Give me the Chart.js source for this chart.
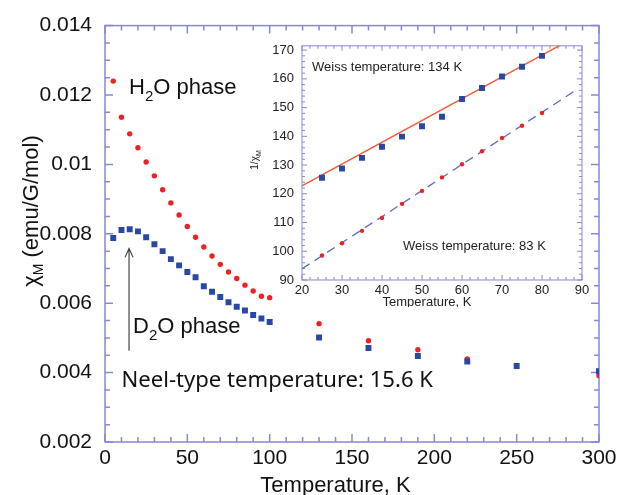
<!DOCTYPE html>
<html>
<head>
<meta charset="utf-8">
<script src="https://cdn.jsdelivr.net/npm/chart.js@4"></script>
<style>
  html, body { margin: 0; padding: 0; background: #fff; }
  #wrap { position: relative; width: 621px; height: 495px; }
  #main { position: absolute; left: 0; top: 0; }
  #inset { position: absolute; left: 245px; top: 30px; }
</style>
</head>
<body>
<div id="wrap">
  <canvas id="main" width="621" height="495"></canvas>
  <canvas id="inset" width="350" height="277"></canvas>
</div>
<script>
/* chi_M vs T for the H2O and D2O phases, with a 1/chi_M inset (Curie-Weiss fits). */

// ---- main plot data: chi_M (emu/G/mol) vs temperature (K)
const h2oTemp = [5, 10, 15, 20, 25, 30, 35, 40, 45, 50, 55, 60, 65, 70, 75, 80, 85, 90, 95, 100,
                 130, 160, 190, 220, 300];
const h2oChi = [0.01240, 0.01136, 0.01088, 0.01048, 0.01007, 0.00967, 0.00927, 0.00889, 0.00854, 0.00821,
                0.00790, 0.00762, 0.00736, 0.00712, 0.00690, 0.00671, 0.00652, 0.00635, 0.00620, 0.00616,
                0.00541, 0.00492, 0.00466, 0.00439, 0.00391];
const d2oTemp = [5, 10, 15, 20, 25, 30, 35, 40, 45, 50, 55, 60, 65, 70, 75, 80, 85, 90, 95, 100,
                 130, 160, 190, 220, 250, 300];
const d2oChi = [0.00788, 0.00811, 0.00813, 0.00807, 0.00790, 0.00770, 0.00750, 0.00727, 0.00709, 0.00690,
                0.00675, 0.00649, 0.00633, 0.00618, 0.00603, 0.00590, 0.00579, 0.00566, 0.00556, 0.00546,
                0.00501, 0.00471, 0.00448, 0.00432, 0.00419, 0.00404];
const mainXTicks = [0, 50, 100, 150, 200, 250, 300];
const mainYTicks = [0.002, 0.004, 0.006, 0.008, 0.01, 0.012, 0.014];
const mainYLabels = ["0.002", "0.004", "0.006", "0.008", "0.01", "0.012", "0.014"];
const neelArrowT = 14.6;               // arrow marking the Neel-type temperature
const neelArrowChi = [0.00463, 0.00758];

// ---- inset data: 1/chi_M vs temperature (K)
const insetTemp = [25, 30, 35, 40, 45, 50, 55, 60, 65, 70, 75, 80];
const insetSquares = [125.6, 128.8, 132.5, 136.4, 139.9, 143.5, 146.8, 153.0, 156.8, 160.8, 164.2, 168.0];
const insetCircles = [98.5, 102.8, 107.1, 111.6, 116.5, 121.0, 125.7, 130.3, 134.8, 139.4, 143.7, 148.1];
const fitSolidTemp = [20, 86];         // Weiss temperature 134 K fit
const fitSolidInv = [122.8, 172.8];
const fitDashTemp = [20, 88.75];       // Weiss temperature 83 K fit
const fitDashInv = [93.9, 156.3];
const insetXTicks = [20, 30, 40, 50, 60, 70, 80, 90];
const insetYTicks = [90, 100, 110, 120, 130, 140, 150, 160, 170];

const AXIS = "rgb(135,135,215)";
const RED = "rgb(238,32,36)";
const BLUE = "rgb(40,72,165)";
const FIT_RED = "rgb(240,95,60)";
const FIT_BLUE = "rgb(95,105,195)";
const SANS = "'Liberation Sans', Arial, Helvetica, sans-serif";

const pts = (xs, ys) => xs.map((x, i) => ({ x, y: ys[i] }));

// draws text pieces side by side; pieces may carry a size and a baseline shift (subscripts)
function rich(ctx, x, y, parts, family) {
  parts.forEach(p => {
    ctx.font = `${p.size}px ${family}`;
    ctx.fillText(p.t, x, y + (p.dy || 0));
    x += ctx.measureText(p.t).width;
  });
  return x;
}
function richWidth(ctx, parts, family) {
  return parts.reduce((w, p) => { ctx.font = `${p.size}px ${family}`; return w + ctx.measureText(p.t).width; }, 0);
}

// frame around the plot with inward major/minor ticks on all four sides
const frame = {
  id: "frame",
  beforeDatasetsDraw(chart, args, o) {
    const { ctx, chartArea: a, scales: { x, y } } = chart;
    ctx.save();
    ctx.strokeStyle = o.color;
    ctx.lineWidth = o.width;
    ctx.strokeRect(a.left, a.top, a.right - a.left, a.bottom - a.top);
    ctx.beginPath();
    const nx = Math.round((x.max - x.min) / o.xMinor);
    for (let i = 0; i <= nx; i++) {
      const v = x.min + i * o.xMinor, px = x.getPixelForValue(v);
      const r = (v - x.min) / o.xMajor, L = Math.abs(r - Math.round(r)) < 1e-6 ? o.majorLen : o.minorLen;
      ctx.moveTo(px, a.bottom); ctx.lineTo(px, a.bottom - L);
      ctx.moveTo(px, a.top); ctx.lineTo(px, a.top + L);
    }
    const ny = Math.floor((y.max - y.min) / o.yMinor + 1e-6);
    for (let i = 0; i <= ny; i++) {
      const v = y.min + i * o.yMinor, py = y.getPixelForValue(v);
      const r = (v - y.min) / o.yMajor, L = Math.abs(r - Math.round(r)) < 1e-6 ? o.majorLen : o.minorLen;
      ctx.moveTo(a.left, py); ctx.lineTo(a.left + L, py);
      ctx.moveTo(a.right, py); ctx.lineTo(a.right - L, py);
    }
    ctx.stroke();
    ctx.restore();
  },
};

const mainDecor = {
  id: "mainDecor",
  afterDatasetsDraw(chart) {
    const { ctx, chartArea: a, scales: { x, y } } = chart;
    ctx.save();
    ctx.fillStyle = "#111";
    ctx.textAlign = "left";
    ctx.textBaseline = "alphabetic";
    rich(ctx, x.getPixelForValue(14.6), y.getPixelForValue(0.01202),
      [{ t: "H", size: 22 }, { t: "2", size: 15, dy: 7 }, { t: "O phase", size: 22 }], SANS);
    rich(ctx, x.getPixelForValue(17.0), y.getPixelForValue(0.00515),
      [{ t: "D", size: 22 }, { t: "2", size: 15, dy: 7 }, { t: "O phase", size: 22 }], SANS);

    // Neel text, sized to the reference width
    const fam = "'Noto Sans', 'DejaVu Sans', sans-serif";
    const msg = "Neel-type temperature: 15.6 K";
    ctx.font = `22px ${fam}`;
    const fs = 22 * 311 / ctx.measureText(msg).width;
    ctx.font = `${fs.toFixed(1)}px ${fam}`;
    ctx.fillText(msg, x.getPixelForValue(10.0), y.getPixelForValue(0.003575));

    // arrow up to the maximum of the D2O curve
    const ax = x.getPixelForValue(neelArrowT);
    const y0 = y.getPixelForValue(neelArrowChi[0]), y1 = y.getPixelForValue(neelArrowChi[1]);
    ctx.strokeStyle = "#444";
    ctx.lineWidth = 1.2;
    ctx.beginPath();
    ctx.moveTo(ax, y0); ctx.lineTo(ax, y1);
    ctx.moveTo(ax - 4, y1 + 9); ctx.lineTo(ax, y1); ctx.lineTo(ax + 4, y1 + 9);
    ctx.stroke();

    // axis titles
    ctx.fillStyle = "#111";
    ctx.font = `22px ${SANS}`;
    ctx.textAlign = "center";
    ctx.fillText("Temperature, K", x.getPixelForValue(140), a.bottom + 50);

    const yt = [{ t: "\u03c7", size: 22 }, { t: "M", size: 14, dy: 5 }, { t: " (emu/G/mol)", size: 22 }];
    ctx.textAlign = "left";
    ctx.translate(38, 211);
    ctx.rotate(-Math.PI / 2);
    rich(ctx, -richWidth(ctx, yt, SANS) / 2, 0, yt, SANS);
    ctx.restore();
  },
};

const insetDecor = {
  id: "insetDecor",
  afterDatasetsDraw(chart) {
    const { ctx, chartArea: a, scales: { x, y } } = chart;
    ctx.save();
    ctx.fillStyle = "#222";
    ctx.textAlign = "left";
    ctx.font = `13px ${SANS}`;
    ctx.fillText("Weiss temperature: 134 K", x.getPixelForValue(22.5), y.getPixelForValue(162.9));
    ctx.fillText("Weiss temperature: 83 K", x.getPixelForValue(45.25), y.getPixelForValue(100.3));
    ctx.textAlign = "center";
    ctx.fillText("Temperature, K", x.getPixelForValue(51.25), a.bottom + 26);
    const yt = [{ t: "1/\u03c7", size: 10 }, { t: "M", size: 7, dy: 3 }];
    ctx.textAlign = "left";
    ctx.translate(13, 130);
    ctx.rotate(-Math.PI / 2);
    rich(ctx, -richWidth(ctx, yt, SANS) / 2, 0, yt, SANS);
    ctx.restore();
  },
};

new Chart(document.getElementById("main"), {
  type: "scatter",
  data: {
    datasets: [
      { label: "D2O phase", data: pts(d2oTemp, d2oChi), pointStyle: "rect", pointRadius: 4.2,
        backgroundColor: BLUE, borderColor: BLUE, borderWidth: 0 },
      { label: "H2O phase", data: pts(h2oTemp, h2oChi), pointStyle: "circle", pointRadius: 2.7,
        backgroundColor: RED, borderColor: RED, borderWidth: 0 },
    ],
  },
  options: {
    responsive: false, animation: false, events: [],
    layout: { padding: { top: 23, right: 22, left: 0, bottom: 0 } },
    plugins: {
      legend: { display: false }, tooltip: { enabled: false },
      frame: { color: AXIS, width: 1.5, xMinor: 10, xMajor: 50, yMinor: 0.0005, yMajor: 0.002,
               majorLen: 8, minorLen: 5 },
    },
    scales: {
      x: {
        type: "linear", min: 0, max: 300,
        afterBuildTicks: s => { s.ticks = mainXTicks.map(v => ({ value: v })); },
        afterFit: s => { s.height = 53; },
        grid: { display: false, drawTicks: false }, border: { display: false },
        ticks: { color: "#111", font: { size: 21, family: SANS }, padding: 4, maxRotation: 0 },
      },
      y: {
        type: "linear", min: 0.002, max: 0.014,
        afterBuildTicks: s => { s.ticks = mainYTicks.map(v => ({ value: v })); },
        afterFit: s => { s.width = 105; },
        grid: { display: false, drawTicks: false }, border: { display: false },
        ticks: { color: "#111", font: { size: 21, family: SANS }, padding: 13,
                 callback: (v, i) => mainYLabels[i] },
      },
    },
  },
  plugins: [frame, mainDecor],
});

new Chart(document.getElementById("inset"), {
  type: "scatter",
  data: {
    datasets: [
      { data: pts(insetTemp, insetSquares), pointStyle: "rect", pointRadius: 4.2,
        backgroundColor: BLUE, borderWidth: 0 },
      { data: pts(insetTemp, insetCircles), pointStyle: "circle", pointRadius: 2.2,
        backgroundColor: RED, borderWidth: 0 },
      { data: pts(fitSolidTemp, fitSolidInv), showLine: true, pointRadius: 0,
        borderColor: FIT_RED, borderWidth: 1.5 },
      { data: pts(fitDashTemp, fitDashInv), showLine: true, pointRadius: 0,
        borderColor: FIT_BLUE, borderWidth: 1.3, borderDash: [9, 6] },
    ],
  },
  options: {
    responsive: false, animation: false, events: [],
    layout: { padding: { top: 13, right: 13, left: 0, bottom: 0 } },
    plugins: {
      legend: { display: false }, tooltip: { enabled: false },
      frame: { color: AXIS, width: 1, xMinor: 2, xMajor: 10, yMinor: 2, yMajor: 10,
               majorLen: 5, minorLen: 3 },
    },
    scales: {
      x: {
        type: "linear", min: 20, max: 90,
        afterBuildTicks: s => { s.ticks = insetXTicks.map(v => ({ value: v })); },
        afterFit: s => { s.height = 27; },
        grid: { display: false, drawTicks: false }, border: { display: false },
        ticks: { color: "#222", font: { size: 13, family: SANS }, padding: 3, maxRotation: 0 },
      },
      y: {
        type: "linear", min: 90, max: 171.5,
        afterBuildTicks: s => { s.ticks = insetYTicks.map(v => ({ value: v })); },
        afterFit: s => { s.width = 57; },
        grid: { display: false, drawTicks: false }, border: { display: false },
        ticks: { color: "#222", font: { size: 13, family: SANS }, padding: 8 },
      },
    },
  },
  plugins: [frame, insetDecor],
});
</script>
</body>
</html>
